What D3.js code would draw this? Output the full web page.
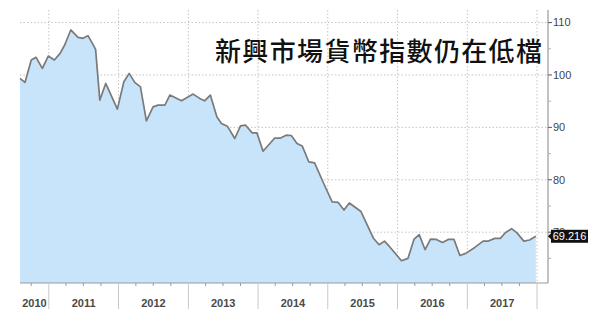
<!DOCTYPE html>
<html>
<head>
<meta charset="utf-8">
<script src="https://cdn.jsdelivr.net/npm/d3@7"></script>
<style>
  body { margin: 0; background: #fff; }
  svg { display: block; }
</style>
</head>
<body>
<svg id="chart" width="600" height="323"></svg>
<script>
// EM currency index
const dates = [
  "2010-08-03", "2010-08-29", "2010-10-01", "2010-10-26", "2010-11-28", "2010-12-29",
  "2011-01-30", "2011-03-01", "2011-03-25", "2011-04-26", "2011-06-03", "2011-06-29",
  "2011-07-25", "2011-08-12", "2011-09-03", "2011-09-25", "2011-10-26", "2011-12-26",
  "2012-01-29", "2012-02-26", "2012-03-26", "2012-04-25", "2012-05-26", "2012-06-30",
  "2012-07-26", "2012-08-31", "2012-09-26", "2012-11-26", "2013-01-26", "2013-03-01",
  "2013-03-27", "2013-04-26", "2013-05-30", "2013-06-23", "2013-07-24", "2013-09-01",
  "2013-10-01", "2013-10-28", "2013-12-01", "2013-12-26", "2014-01-27", "2014-03-28",
  "2014-04-26", "2014-05-28", "2014-06-24", "2014-07-24", "2014-08-20", "2014-09-24",
  "2014-10-24", "2014-12-15", "2015-01-24", "2015-02-24", "2015-03-27", "2015-04-24",
  "2015-06-24", "2015-08-28", "2015-09-27", "2015-10-25", "2015-11-20", "2016-01-22",
  "2016-02-25", "2016-03-28", "2016-04-24", "2016-05-25", "2016-06-22", "2016-07-23",
  "2016-08-24", "2016-09-23", "2016-10-23", "2016-11-23", "2016-12-24", "2017-02-09",
  "2017-03-25", "2017-04-21", "2017-05-25", "2017-06-23", "2017-07-19", "2017-08-21",
  "2017-09-18", "2017-10-24", "2017-11-23", "2017-12-26"
];
const values = [
  99.35, 98.58, 102.85, 103.37, 101.26, 103.61,
  102.85, 104.13, 105.72, 108.59, 107.19, 107.0,
  107.5, 106.35, 104.89, 95.2, 98.39, 93.48,
  98.7, 100.31, 98.58, 97.74, 91.24, 93.92,
  94.24, 94.24, 96.16, 95.07, 96.35, 95.53,
  95.07, 96.16, 92.01, 90.75, 90.23, 87.88,
  90.29, 90.42, 88.95, 88.95, 85.45, 87.93,
  87.93, 88.51, 88.45, 86.92, 86.46, 83.4,
  83.21, 78.95, 75.79, 75.7, 74.23, 75.56,
  73.94, 68.85, 67.61, 68.3, 67.28, 64.55,
  64.99, 68.66, 69.54, 66.65, 68.68, 68.62,
  68.05, 68.62, 68.62, 65.56, 65.95, 67.09,
  68.3, 68.3, 68.81, 68.81, 69.9, 70.67,
  69.87, 68.3, 68.51, 69.216
];
const years = [2010, 2011, 2012, 2013, 2014, 2015, 2016, 2017];
const majorTicks = [70, 80, 90, 100, 110];
const minorTicks = [65, 75, 85, 95, 105];
const title = "新興市場貨幣指數仍在低檔";
const lastLabel = "69.216";

const svg = d3.select("#chart");
const plot = { left: 20, right: 548, top: 10, bottom: 283 };

const parse = d3.timeParse("%Y-%m-%d");
const points = dates.map((d, i) => ({ date: parse(d), value: values[i] }));

const x = d3.scaleTime()
  .domain([new Date(2010, 7, 3), new Date(2018, 0, 1)])
  .range([plot.left, 537]);

const y = d3.scaleLinear()
  .domain([60.3, 112.4])
  .range([plot.bottom, plot.top]);

// grid
const grid = svg.append("g");
majorTicks.forEach(t => {
  grid.append("line")
    .attr("x1", plot.left).attr("x2", plot.right)
    .attr("y1", y(t)).attr("y2", y(t))
    .attr("stroke", "#c4c4c4")
    .attr("stroke-dasharray", "1.5,2");
});

const yearBounds = years.slice(1).map(yr => new Date(yr, 0, 1)).concat([new Date(2018, 0, 1)]);
yearBounds.forEach(d => {
  grid.append("line")
    .attr("x1", x(d)).attr("x2", x(d))
    .attr("y1", plot.top).attr("y2", plot.bottom)
    .attr("stroke", "#c4c4c4")
    .attr("stroke-dasharray", "1.5,2");
});

// area + line
const area = d3.area()
  .x(d => x(d.date))
  .y0(plot.bottom)
  .y1(d => y(d.value));

const line = d3.line()
  .x(d => x(d.date))
  .y(d => y(d.value));

svg.append("path")
  .datum(points)
  .attr("d", area)
  .attr("fill", "#c8e4fa");

svg.append("path")
  .datum(points)
  .attr("d", line)
  .attr("fill", "none")
  .attr("stroke", "#7a7a7a")
  .attr("stroke-width", 1.7)
  .attr("stroke-linejoin", "round");

// title
svg.append("text")
  .attr("x", 215)
  .attr("y", 61)
  .attr("textLength", 327)
  .attr("lengthAdjust", "spacing")
  .attr("font-family", "'Noto Sans CJK TC', 'Noto Sans CJK SC', sans-serif")
  .attr("font-size", "26px")
  .attr("font-weight", 500)
  .attr("fill", "#111")
  .text(title);

// bottom axis
svg.append("line")
  .attr("x1", plot.left).attr("x2", plot.right)
  .attr("y1", plot.bottom).attr("y2", plot.bottom)
  .attr("stroke", "#9a9a9a")
  .attr("stroke-width", 1.2);

yearBounds.forEach(d => {
  svg.append("line")
    .attr("x1", x(d)).attr("x2", x(d))
    .attr("y1", plot.bottom).attr("y2", 309)
    .attr("stroke", "#c8c8c8");
});

const quarters = d3.timeMonth.every(3).range(new Date(2010, 7, 3), new Date(2018, 0, 1))
  .filter(d => d.getMonth() !== 0);
quarters.forEach(d => {
  svg.append("line")
    .attr("x1", x(d)).attr("x2", x(d))
    .attr("y1", plot.bottom).attr("y2", plot.bottom + 3)
    .attr("stroke", "#9a9a9a");
});

years.forEach(yr => {
  const x0 = Math.max(x(new Date(yr, 0, 1)), plot.left);
  const x1 = x(new Date(yr + 1, 0, 1));
  svg.append("text")
    .attr("x", (x0 + x1) / 2)
    .attr("y", 307)
    .attr("text-anchor", "middle")
    .attr("font-family", "'Liberation Sans', Arial, sans-serif")
    .attr("font-size", "11px")
    .attr("font-weight", "bold")
    .attr("fill", "#4a4a4a")
    .text(yr);
});

// right axis
svg.append("line")
  .attr("x1", plot.right).attr("x2", plot.right)
  .attr("y1", plot.top).attr("y2", plot.bottom)
  .attr("stroke", "#9a9a9a")
  .attr("stroke-width", 1.2);

minorTicks.forEach(t => {
  svg.append("line")
    .attr("x1", plot.right).attr("x2", plot.right + 3)
    .attr("y1", y(t)).attr("y2", y(t))
    .attr("stroke", "#b0b0b0");
});

majorTicks.forEach(t => {
  svg.append("line")
    .attr("x1", plot.right).attr("x2", plot.right + 4)
    .attr("y1", y(t)).attr("y2", y(t))
    .attr("stroke", "#555");
  svg.append("text")
    .attr("x", plot.right + 5)
    .attr("y", y(t))
    .attr("dy", "0.35em")
    .attr("font-family", "'Liberation Sans', Arial, sans-serif")
    .attr("font-size", "11px")
    .attr("fill", "#444")
    .text(t);
});

// last value tag
const last = points[points.length - 1];
const ly = y(last.value);
const tag = svg.append("g");
tag.append("path")
  .attr("d", `M${plot.right},${ly} L${plot.right + 4},${ly - 4} L${plot.right + 4},${ly + 4} Z`)
  .attr("fill", "#111");
tag.append("rect")
  .attr("x", plot.right + 3).attr("y", ly - 6.5)
  .attr("width", 37).attr("height", 13)
  .attr("fill", "#111");
tag.append("text")
  .attr("x", plot.right + 21.5)
  .attr("y", ly)
  .attr("dy", "0.36em")
  .attr("text-anchor", "middle")
  .attr("font-family", "'Liberation Sans', Arial, sans-serif")
  .attr("font-size", "11px")
  .attr("fill", "#fff")
  .text(lastLabel);
</script>
</body>
</html>
